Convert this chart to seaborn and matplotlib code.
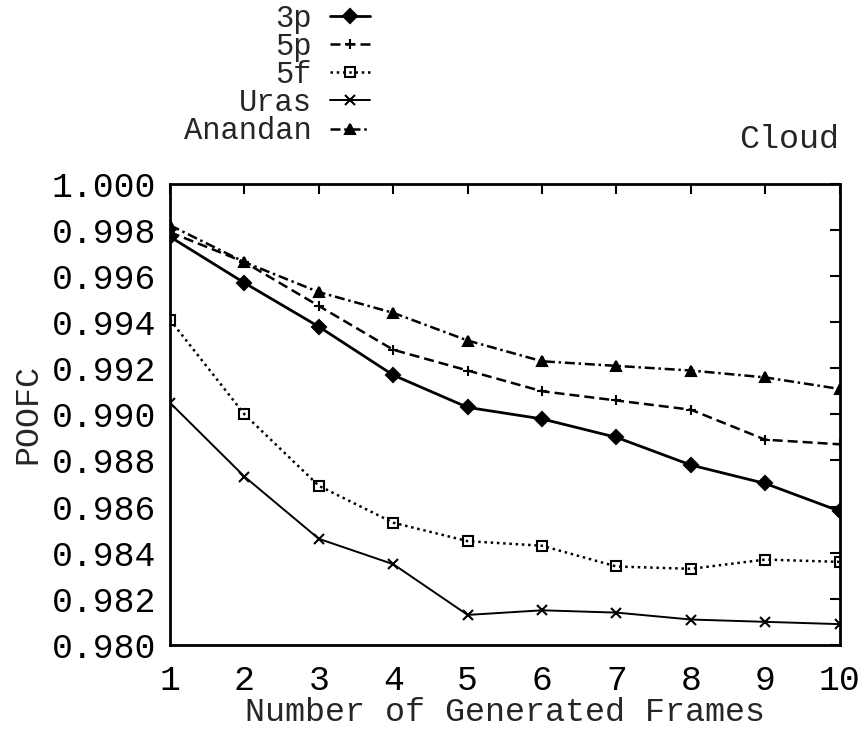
import matplotlib
matplotlib.use('Agg')
import matplotlib.pyplot as plt
import seaborn as sns
import pandas as pd

frames = [1, 2, 3, 4, 5, 6, 7, 8, 9, 10]
poofc_3p = [0.9977, 0.9957, 0.9938, 0.9917, 0.9903, 0.9898, 0.9890, 0.9878, 0.9870, 0.9858]
poofc_5p = [0.9979, 0.9966, 0.9947, 0.9928, 0.9919, 0.9910, 0.9906, 0.9902, 0.9889, 0.9887]
poofc_5f = [0.9941, 0.9900, 0.9869, 0.9853, 0.9845, 0.9843, 0.9834, 0.9833, 0.9837, 0.9836]
poofc_uras = [0.9905, 0.9873, 0.9846, 0.9835, 0.9813, 0.9815, 0.9814, 0.9811, 0.9810, 0.9809]
poofc_anandan = [0.9982, 0.9966, 0.9953, 0.9944, 0.9932, 0.9923, 0.9921, 0.9919, 0.9916, 0.9911]
y_ticks = [0.980, 0.982, 0.984, 0.986, 0.988, 0.990, 0.992, 0.994, 0.996, 0.998, 1.000]

sns.set_style('white')
plt.rcParams['font.family'] = ['Liberation Mono', 'DejaVu Sans']

series = [
    ('3p', poofc_3p, '-', 'D', 'k', 2.0),
    ('5p', poofc_5p, (0, (4, 2)), '+', 'k', 1.8),
    ('5f', poofc_5f, (0, (1, 1.5)), 's', 'none', 1.8),
    ('Uras', poofc_uras, '-', 'x', 'k', 1.4),
    ('Anandan', poofc_anandan, (0, (4, 1.5, 1, 1.5)), '^', 'k', 1.8),
]

fig = plt.figure(figsize=(8.63, 7.32), dpi=100)
ax = fig.add_axes([0.197, 0.119, 0.776, 0.630])

for name, vals, ls, mk, fc, lw in series:
    df = pd.DataFrame({'frame': frames, 'poofc': vals})
    sns.lineplot(data=df, x='frame', y='poofc', ax=ax, color='black', linestyle=ls,
                 linewidth=lw, marker=mk, markersize=7, markerfacecolor=fc,
                 markeredgecolor='black', markeredgewidth=1.5, label=name, legend=False)

ax.set_xlim(1, 10)
ax.set_ylim(0.980, 1.000)
ax.set_xticks(frames)
ax.set_yticks(y_ticks)
ax.set_yticklabels([f'{t:.3f}' for t in y_ticks])
ax.tick_params(axis='both', direction='in', length=7, width=1.5, top=True, right=True,
               labelsize=25, colors='black')
ax.tick_params(axis='x', pad=14)
ax.tick_params(axis='y', pad=10)
for s in ax.spines.values():
    s.set_linewidth(2)
    s.set_color('black')
ax.set_xlabel('Number of Generated Frames', fontsize=24, labelpad=0)
ax.set_ylabel('POOFC', fontsize=24, labelpad=6)
fig.text(0.972, 0.809, 'Cloud', fontsize=24, ha='right', va='center')

handles, labels = ax.get_legend_handles_labels()
fig.legend(handles, labels, loc='upper left', bbox_to_anchor=(0.192, 1.02),
           markerfirst=False, frameon=False, fontsize=22, handlelength=1.3,
           handletextpad=0.6, labelspacing=-0.06, alignment='right',
           borderaxespad=0.2)

fig.savefig('out.png', dpi=100)
